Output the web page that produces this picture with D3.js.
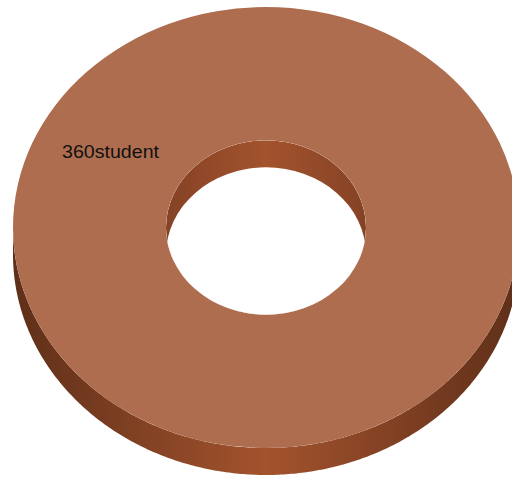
<!DOCTYPE html>
<html>
<head>
<meta charset="utf-8">
<script src="https://cdn.jsdelivr.net/npm/d3@7"></script>
<style>
  html, body { margin: 0; padding: 0; background: #fff; }
  svg { display: block; }
</style>
</head>
<body>
<svg id="donut" width="512" height="478"></svg>
<script>
// one slice only
var categories = ["360student"];
var values = [100];

var width = 512, height = 478;
var cx = 266, cy = 227.5;
var rOuter = 253, rInner = 100;
var tilt = 0.8715;   // vertical squash
var depth = 27;

var svg = d3.select("#donut");
var defs = svg.append("defs");

// side gradients, dark at the edges, bright in the middle
var sideGrad = defs.append("linearGradient").attr("id", "sideGrad")
    .attr("gradientUnits", "userSpaceOnUse")
    .attr("x1", -rOuter).attr("x2", rOuter).attr("y1", 0).attr("y2", 0);
sideGrad.append("stop").attr("offset", "0%").attr("stop-color", "#5f2f19");
sideGrad.append("stop").attr("offset", "50%").attr("stop-color", "#a3532d");
sideGrad.append("stop").attr("offset", "100%").attr("stop-color", "#5f2f19");

var innerGrad = defs.append("linearGradient").attr("id", "innerGrad")
    .attr("gradientUnits", "userSpaceOnUse")
    .attr("x1", -rInner).attr("x2", rInner).attr("y1", 0).attr("y2", 0);
innerGrad.append("stop").attr("offset", "0%").attr("stop-color", "#854225");
innerGrad.append("stop").attr("offset", "50%").attr("stop-color", "#a3532d");
innerGrad.append("stop").attr("offset", "100%").attr("stop-color", "#854225");

var color = d3.scaleOrdinal().domain(categories).range(["#ae6d4f"]);

var pie = d3.pie().sort(null).value(function(d) { return d.value; });
var slices = pie(categories.map(function(c, i) { return {name: c, value: values[i]}; }));

var g = svg.append("g").attr("transform", "translate(" + cx + "," + cy + ")");

// point on the tilted ellipse
function px(r, a) { return r * Math.sin(a); }
function py(r, a) { return -r * Math.cos(a) * tilt; }
var line = d3.line();

// outer wall: only the front half shows
function outerWall(d) {
  var a0 = Math.max(d.startAngle, Math.PI / 2);
  var a1 = Math.min(d.endAngle, 3 * Math.PI / 2);
  if (a1 <= a0) return null;
  var angles = d3.range(a0, a1, 0.01).concat([a1]);
  var top = angles.map(function(a) { return [px(rOuter, a), py(rOuter, a)]; });
  var bot = angles.slice().reverse().map(function(a) { return [px(rOuter, a), py(rOuter, a) + depth]; });
  return line(top.concat(bot)) + "Z";
}

g.selectAll("path.outer").data(slices).enter().append("path")
    .attr("class", "outer")
    .attr("d", outerWall)
    .attr("fill", "url(#sideGrad)");

// top face
var arc = d3.arc().innerRadius(rInner).outerRadius(rOuter);
g.append("g").attr("transform", "scale(1," + tilt + ")")
  .selectAll("path.top").data(slices).enter().append("path")
    .attr("class", "top")
    .attr("d", arc)
    .attr("fill", function(d) { return color(d.data.name); });

// inner wall seen through the hole (back half)
defs.append("clipPath").attr("id", "holeClip")
  .append("ellipse").attr("cx", 0).attr("cy", 0)
    .attr("rx", rInner).attr("ry", rInner * tilt);

var hole = g.append("g").attr("clip-path", "url(#holeClip)");
hole.append("ellipse").attr("rx", rInner).attr("ry", rInner * tilt)
    .attr("fill", "url(#innerGrad)");
hole.append("ellipse").attr("cy", depth).attr("rx", rInner).attr("ry", rInner * tilt)
    .attr("fill", "#ffffff");

// label
svg.selectAll("text.label").data(slices).enter().append("text")
    .attr("class", "label")
    .attr("x", 62)
    .attr("y", 158)
    .attr("font-family", "Liberation Sans, Arial, sans-serif")
    .attr("font-size", 19)
    .attr("textLength", 97)
    .attr("lengthAdjust", "spacingAndGlyphs")
    .attr("fill", "#111111")
    .text(function(d) { return d.data.name; });
</script>
</body>
</html>
